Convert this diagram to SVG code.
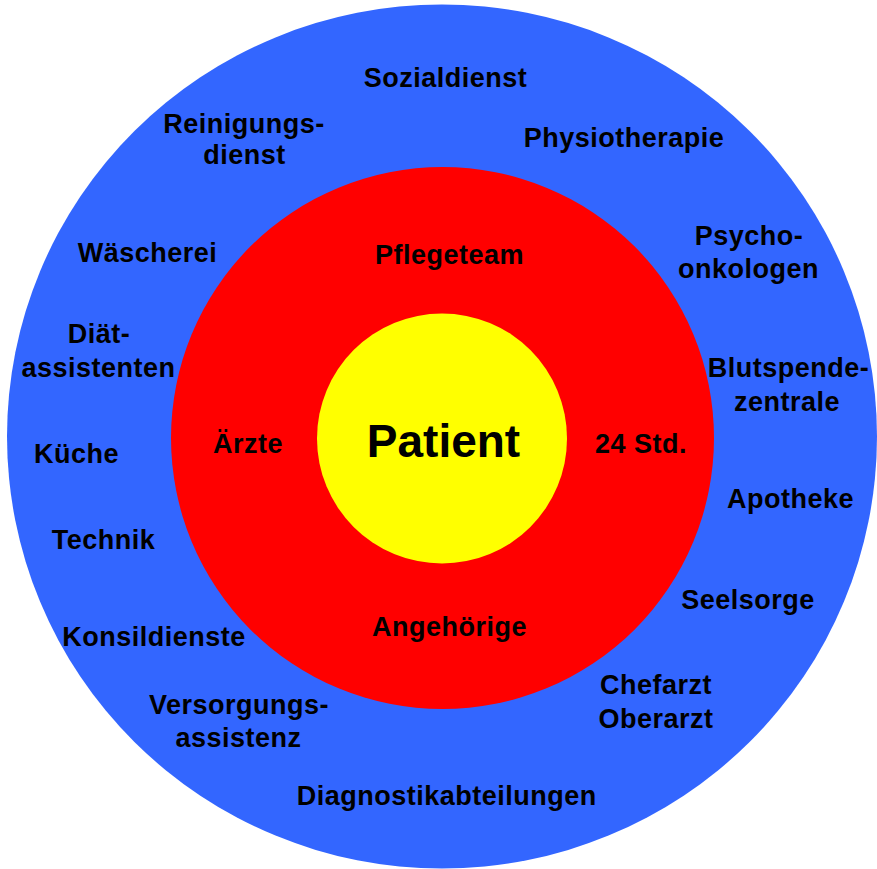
<svg xmlns="http://www.w3.org/2000/svg" width="877" height="869" viewBox="0 0 877 869">
  <style>
    .lbl { font-family: "Liberation Sans", Arial, sans-serif; font-weight: bold; font-size: 27px; letter-spacing: 0.5px; fill: #000; text-anchor: middle; }
    .big { font-size: 46px; letter-spacing: 0; }
    .blue { fill: #3366FF; }
    .red { fill: #FF0000; }
    .yellow { fill: #FFFF00; }
  </style>
  <rect width="877" height="869" fill="#FFFFFF"/>
  <g id="ring-outer">
    <ellipse class="blue" cx="442" cy="436.5" rx="435" ry="432"/>
  </g>
  <g id="ring-middle">
    <ellipse class="red" cx="442.5" cy="438" rx="271.5" ry="271"/>
  </g>
  <g id="core">
    <circle class="yellow" cx="442" cy="438.5" r="125"/>
  </g>

  <g id="patient"><text class="lbl big" x="443.5" y="457">Patient</text></g>

  <g id="pflegeteam"><text class="lbl" x="449.5" y="264">Pflegeteam</text></g>
  <g id="aerzte"><text class="lbl" x="248" y="453">Ärzte</text></g>
  <g id="std24"><text class="lbl" x="641" y="453">24 Std.</text></g>
  <g id="angehoerige"><text class="lbl" x="449.5" y="636">Angehörige</text></g>

  <g id="sozialdienst"><text class="lbl" x="445.5" y="87">Sozialdienst</text></g>
  <g id="reinigungsdienst"><text class="lbl" x="244" y="133">Reinigungs-</text><text class="lbl" x="244.5" y="164">dienst</text></g>
  <g id="physiotherapie"><text class="lbl" x="624" y="147">Physiotherapie</text></g>
  <g id="psychoonkologen"><text class="lbl" x="749" y="245">Psycho-</text><text class="lbl" x="748.5" y="278">onkologen</text></g>
  <g id="waescherei"><text class="lbl" x="147.5" y="262">Wäscherei</text></g>
  <g id="diaetassistenten"><text class="lbl" x="99" y="343">Diät-</text><text class="lbl" x="98.5" y="377">assistenten</text></g>
  <g id="blutspendezentrale"><text class="lbl" x="788.5" y="377">Blutspende-</text><text class="lbl" x="787" y="411">zentrale</text></g>
  <g id="kueche"><text class="lbl" x="76.5" y="463">Küche</text></g>
  <g id="apotheke"><text class="lbl" x="790.5" y="508">Apotheke</text></g>
  <g id="technik"><text class="lbl" x="103.5" y="549">Technik</text></g>
  <g id="seelsorge"><text class="lbl" x="748" y="609">Seelsorge</text></g>
  <g id="konsildienste"><text class="lbl" x="154" y="646">Konsildienste</text></g>
  <g id="chefarzt-oberarzt"><text class="lbl" x="656" y="694">Chefarzt</text><text class="lbl" x="656" y="728">Oberarzt</text></g>
  <g id="versorgungsassistenz"><text class="lbl" x="239" y="714">Versorgungs-</text><text class="lbl" x="238.5" y="747">assistenz</text></g>
  <g id="diagnostikabteilungen"><text class="lbl" x="446.7" y="805">Diagnostikabteilungen</text></g>

  <g id="connectors"/>
</svg>
